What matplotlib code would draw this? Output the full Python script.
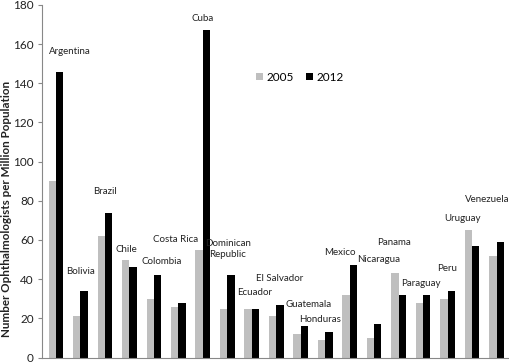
import matplotlib
matplotlib.use("Agg")
import matplotlib.pyplot as plt
import numpy as np

countries = ["Argentina", "Bolivia", "Brazil", "Chile", "Colombia", "Costa Rica", "Cuba",
             "Dominican\nRepublic", "Ecuador", "El Salvador", "Guatemala", "Honduras",
             "Mexico", "Nicaragua", "Panama", "Paraguay", "Peru", "Uruguay", "Venezuela"]
v2005 = [90, 21, 62, 50, 30, 26, 55, 25, 25, 21, 12, 9, 32, 10, 43, 28, 30, 65, 52]
v2012 = [146, 34, 74, 46, 42, 28, 167, 42, 25, 27, 16, 13, 47, 17, 32, 32, 34, 57, 59]
# label anchor positions (category offset, value height)
label_x = [0.57, 1.0, 2.0, 2.86, 4.33, 4.9, 6.0, 7.02, 8.12, 9.14, 10.3, 10.8,
           11.6, 13.2, 13.8, 14.9, 16.0, 16.6, 17.6]
label_y = [156, 44, 85, 55, 49, 60.5, 173, 55.4, 33, 40.3, 27, 19.4,
           53.7, 50, 58.5, 37.7, 45.2, 70.9, 80.9]

plt.rcParams['font.family'] = ['Lato', 'DejaVu Sans']

fig = plt.figure(figsize=(5.1, 3.62), dpi=100)
ax = fig.add_axes([42/510, 4.5/362, 1 - 42/510, (357.5 - 5)/362])

x = np.arange(len(countries))
w = 0.3
ax.bar(x - w/2, v2005, width=w, color="#bfbfbf", label="2005", zorder=2)
ax.bar(x + w/2, v2012, width=w, color="#000000", label="2012", zorder=2)

for xi, yi, name in zip(label_x, label_y, countries):
    ax.text(xi, yi, name, ha="center", va="center", fontsize=7, color="#222222",
            linespacing=1.3)

ax.set_xlim(-0.57, 18.55)
ax.set_ylim(0, 180)
ax.set_yticks(range(0, 181, 20))
ax.set_xticks([])
ax.tick_params(axis="y", direction="out", length=3, color="#888888", labelsize=8.5,
               labelcolor="#222222", pad=3)
for s in ["top", "right"]:
    ax.spines[s].set_visible(False)
ax.spines["left"].set_color("#888888")
ax.spines["bottom"].set_color("#888888")
ax.spines["left"].set_linewidth(0.8)
ax.spines["bottom"].set_linewidth(0.8)

fig.text(7/510, 1 - 209/362, "Number Ophthalmologists per Million Population",
         rotation=90, ha="center", va="center", fontsize=8.4, fontweight="bold",
         color="#222222")

leg = ax.legend(loc="center", bbox_to_anchor=(300/510, 1 - 77.3/362),
                bbox_transform=fig.transFigure, ncol=2, frameon=False,
                fontsize=8.5, handlelength=0.6, handleheight=0.6,
                handletextpad=0.3, columnspacing=1.0)

fig.savefig("out.png", dpi=100)
